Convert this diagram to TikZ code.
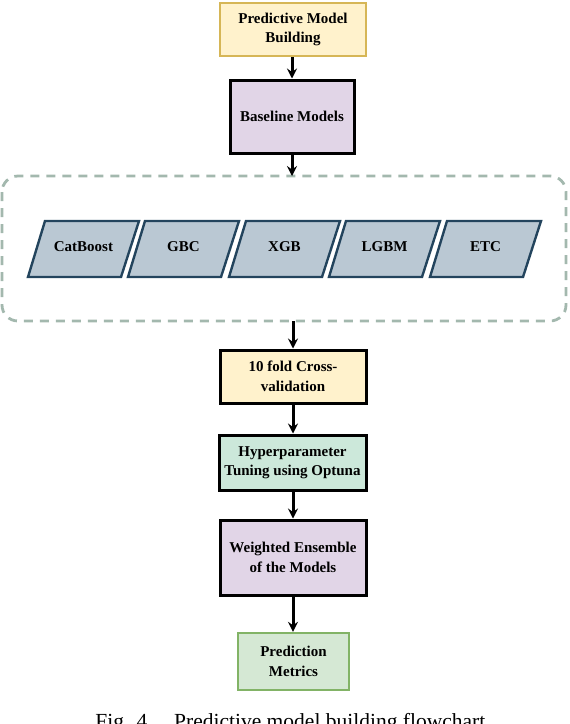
\documentclass[tikz,border=0pt]{standalone}
\usepackage{fontspec}
\setmainfont{Liberation Serif}
\usetikzlibrary{arrows.meta,shapes.geometric}
\definecolor{yelfill}{HTML}{FFF2CC}
\definecolor{yeldraw}{HTML}{D6B656}
\definecolor{purfill}{HTML}{E1D5E7}
\definecolor{grnfill}{HTML}{D5E8D4}
\definecolor{grndraw}{HTML}{82B366}
\definecolor{mintfill}{HTML}{CCE8DA}
\definecolor{bluefill}{HTML}{BAC8D3}
\definecolor{bluedraw}{HTML}{23445D}
\definecolor{dashcol}{HTML}{A3B8AE}
\tikzset{
  box/.style={draw=black, line width=3pt, align=center, inner sep=1pt, font=\bfseries\fontsize{15}{19.5}\selectfont},
  modelbox/.style={draw=bluedraw, fill=bluefill, line width=2.4pt},
  modeltext/.style={font=\bfseries\fontsize{15}{18}\selectfont},
  flow/.style={line width=3pt, -{Stealth[length=10pt,width=10pt,inset=3.5pt]}},
}
\begin{document}
\begin{tikzpicture}[x=1pt,y=-1pt]
\useasboundingbox (0,0) rectangle (570,724);
% boxes
\node[box, draw=yeldraw, line width=2.4pt, fill=yelfill, minimum width=146pt, minimum height=53pt] (pmb) at (293,29.5) {Predictive Model\\Building};
\node[box, fill=purfill, minimum width=124pt, minimum height=73pt] (base) at (292,116.5) {Baseline Models};
% dashed container
\draw[dashcol, line width=2.8pt, dash pattern=on 9pt off 7pt, rounded corners=16pt] (2,176) rectangle (566,321);
\coordinate (ctop) at (292,176);
\coordinate (cbot) at (293,321);
% parallelograms
\foreach \nm/\xl/\txt in {cat/28/CatBoost, gbc/128/GBC, xgb/229/XGB, lgbm/329/LGBM, etc/430/ETC}{
  \draw[modelbox] (\xl,277) -- (\xl+17,221) -- (\xl+111,221) -- (\xl+93,277) -- cycle;
  \node[modeltext] (\nm) at (\xl+55.5,247) {\txt};
}
\node[box, fill=yelfill, minimum width=146pt, minimum height=53pt] (cv) at (293,376.5) {10 fold Cross-\\validation};
\node[box, fill=mintfill, minimum width=147pt, minimum height=55pt, inner sep=0pt] (hp) at (292.5,462.5) {Hyperparameter\\Tuning using Optuna};
\node[box, fill=purfill, minimum width=146pt, minimum height=75pt] (we) at (293,557.5) {Weighted Ensemble\\of the Models};
\node[box, draw=grndraw, line width=2.4pt, fill=grnfill, minimum width=111pt, minimum height=57pt] (pm) at (293.5,661.5) {Prediction\\Metrics};
% arrows
\draw[flow] (pmb.south -| base.north) -- (base.north);
\draw[flow] (base.south) -- (ctop);
\draw[flow] (cbot) -- (cbot |- cv.north);
\draw[flow] (cv.south) -- (cv.south |- hp.north);
\draw[flow] (hp.south -| we.north) -- (we.north);
\draw[flow] (we.south) -- (we.south |- pm.north);
% caption
\node[anchor=base, font=\fontsize{21.5}{24}\selectfont, inner sep=0pt] (cap) at (293,728) {Fig. 4.\quad Predictive model building flowchart.};
\end{tikzpicture}
\end{document}
